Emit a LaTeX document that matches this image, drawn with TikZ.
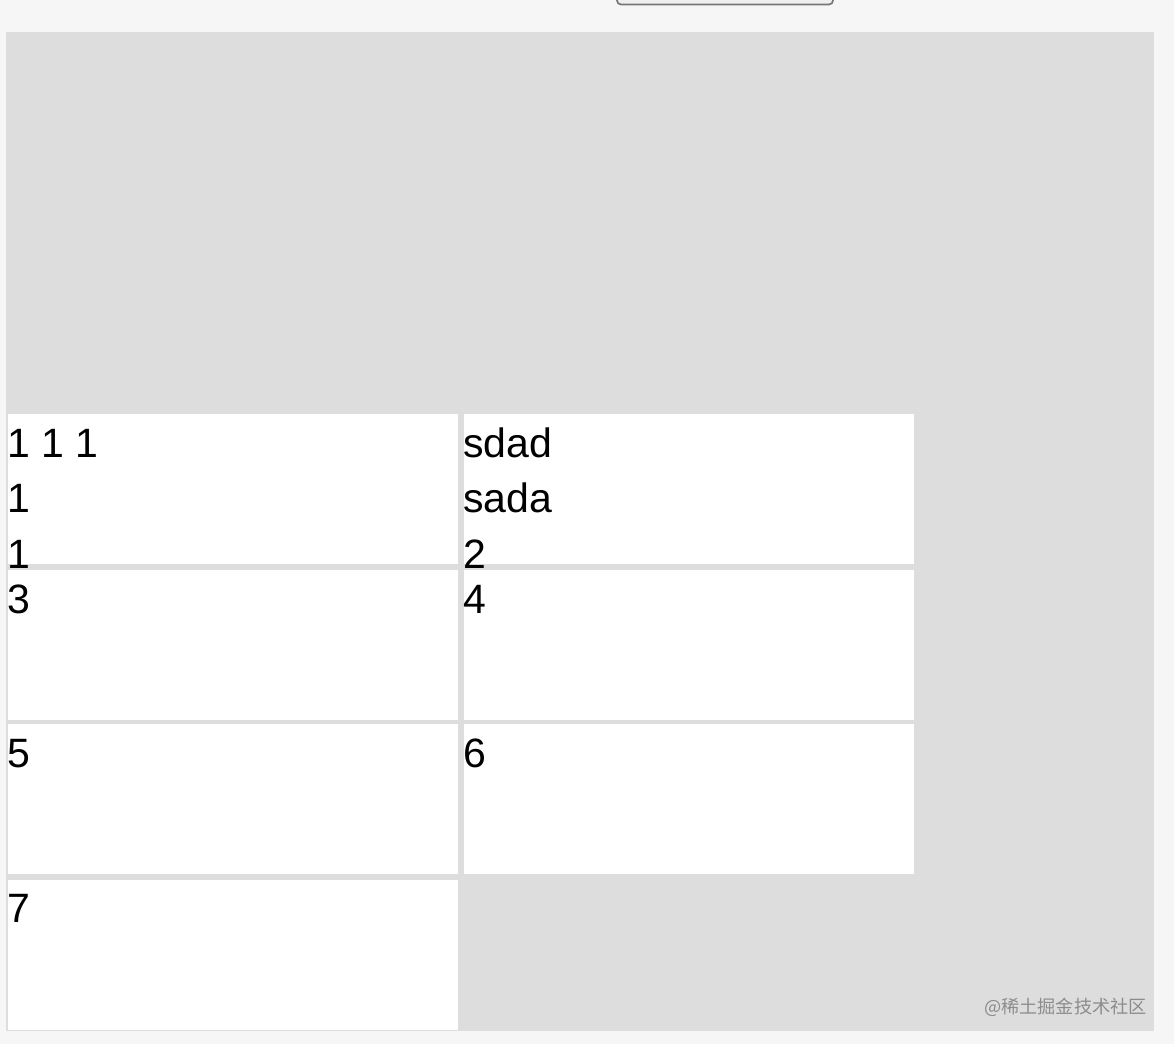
\documentclass[tikz,border=0pt]{standalone}
\usepackage{fontspec}
\setmainfont{Liberation Sans}
\newfontfamily\cjkfont{Noto Sans CJK SC}
\definecolor{pagebg}{HTML}{F6F6F6}
\definecolor{boxbg}{HTML}{DDDDDD}
\definecolor{btnline}{HTML}{767676}
\definecolor{btnfill}{HTML}{EFEFEF}
\definecolor{wmark}{HTML}{8C8C8C}
\begin{document}
\begin{tikzpicture}[x=0.03cm,y=-0.03cm,
  cell/.style={fill=white},
  txt/.style={anchor=base west, inner sep=0pt, font=\fontsize{35}{42}\selectfont},
  btn/.style={draw=btnline, fill=btnfill, line width=0.05cm, rounded corners=0.12cm}]
\useasboundingbox (0,0) rectangle (1174,1044);
\clip (0,0) rectangle (1174,1044);
\fill[pagebg] (0,0) rectangle (1174,1044);
\draw[btn] (617,-12) rectangle (833,4.5);
\fill[boxbg] (6,32) rectangle (1154,1031);
% cells
\fill[cell] (8,414) rectangle (458,564);
\fill[cell] (463.5,414) rectangle (914,564);
\fill[cell] (8,570) rectangle (458,720);
\fill[cell] (463.5,570) rectangle (914,720);
\fill[cell] (8,724) rectangle (458,874);
\fill[cell] (463.5,724) rectangle (914,874);
\fill[cell] (8,880) rectangle (458,1030);
% texts
\node[txt] (t1a) at (7,457) {1 1 1};
\node[txt] (t1b) at (7,512.5) {1};
\node[txt] (t1c) at (7,568) {1};
\node[txt] (t2a) at (463,457) {sdad};
\node[txt] (t2b) at (463,512.5) {sada};
\node[txt] (t2c) at (463,568) {2};
\node[txt] (t3) at (7,613) {3};
\node[txt] (t4) at (463,613) {4};
\node[txt] (t5) at (7,767) {5};
\node[txt] (t6) at (463,767) {6};
\node[txt] (t7) at (7,922) {7};
\node[anchor=base east, inner sep=0pt, text=wmark, font=\cjkfont\fontsize{15.5}{18}\selectfont] (wm) at (1147,1013) {@稀土掘金技术社区};
\end{tikzpicture}
\end{document}
